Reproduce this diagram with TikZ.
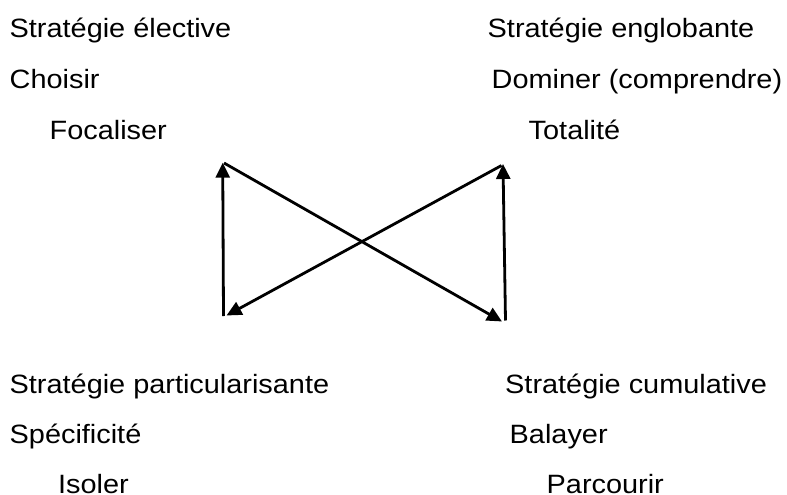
\documentclass[tikz,border=0pt]{standalone}
\usepackage{fontspec}
\setmainfont{Liberation Sans}
\usetikzlibrary{arrows.meta}
\tikzset{
  lbl/.style={anchor=base west, inner sep=0pt, font=\fontsize{26.5}{30}\selectfont},
  arr/.style={line width=2.8pt, -{Triangle[length=15pt,width=14pt]}}
}
\newcommand{\sx}[1]{\scalebox{1.09}[1]{#1}}
\begin{document}
\begin{tikzpicture}[x=1pt,y=-1pt]
\useasboundingbox (0,0) rectangle (787,495);
% top left
\node[lbl] (se) at (9.5,37.3) {\sx{Stratégie élective}};
\node[lbl] (ch) at (9.5,88.3) {\sx{Choisir}};
\node[lbl] (fo) at (49.5,139.5) {\sx{Focaliser}};
% top right
\node[lbl] (sg) at (487.5,37.3) {\sx{Stratégie englobante}};
\node[lbl] (do) at (491.5,88.3) {\sx{Dominer (comprendre)}};
\node[lbl] (to) at (528.5,139.5) {\sx{Totalité}};
% bottom left
\node[lbl] (sp) at (9.5,393.3) {\sx{Stratégie particularisante}};
\node[lbl] (sf) at (9.5,443.3) {\sx{Spécificité}};
\node[lbl] (is) at (58,493) {\sx{Isoler}};
% bottom right
\node[lbl] (sc) at (505,393.3) {\sx{Stratégie cumulative}};
\node[lbl] (ba) at (509.5,443.3) {\sx{Balayer}};
\node[lbl] (pa) at (546.5,493) {\sx{Parcourir}};
% arrow end points
\coordinate (TL) at (222.7,162.7);
\coordinate (BL) at (223.5,316);
\coordinate (TR) at (503,164);
\coordinate (BR) at (505.5,320.5);
\coordinate (BLt) at (226.5,315.5);
\coordinate (BRt) at (502,321.5);
\coordinate (TLs) at (224,163);
\coordinate (TRs) at (501.5,165.5);
\draw[arr] (BL) -- (TL);
\draw[arr] (TLs) -- (BRt);
\draw[arr] (BR) -- (TR);
\draw[arr] (TRs) -- (BLt);
\end{tikzpicture}
\end{document}
